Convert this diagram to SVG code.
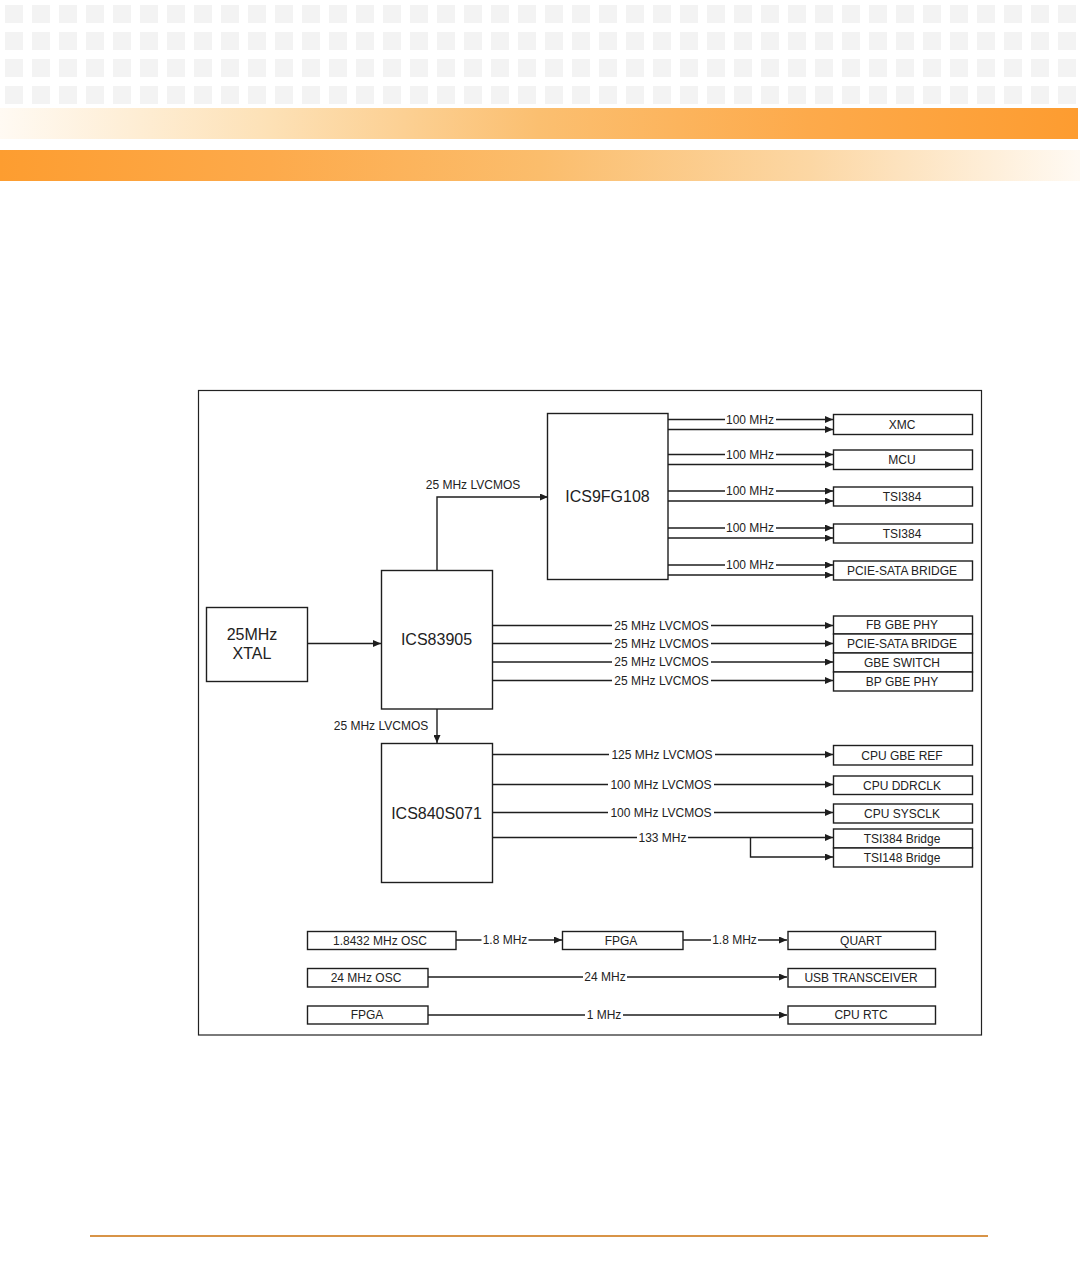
<svg xmlns="http://www.w3.org/2000/svg" width="1080" height="1268" viewBox="0 0 1080 1268">
<style>
.box{fill:#fff;stroke:#1e1e1e;stroke-width:1.4}
.ln{fill:none;stroke:#1e1e1e;stroke-width:1.4}
.arr{marker-end:url(#ah)}
.t{font-family:"Liberation Sans",Arial,sans-serif;font-size:12px;fill:#222;text-anchor:middle}
.big{font-size:16px}
.bg{fill:#fff}
</style>
<defs>
<pattern id="sq" x="5" y="5" width="27" height="27" patternUnits="userSpaceOnUse"><rect width="18" height="18" fill="#f3f3f3"/></pattern>
<linearGradient id="g1" x1="0" y1="0" x2="1" y2="0">
<stop offset="0" stop-color="#fffaf3"/><stop offset="0.25" stop-color="#fde1b6"/><stop offset="0.5" stop-color="#fbbf70"/><stop offset="0.75" stop-color="#fdaa4b"/><stop offset="1" stop-color="#fd9c30"/>
</linearGradient>
<linearGradient id="g2" x1="0" y1="0" x2="1" y2="0">
<stop offset="0" stop-color="#fd9d30"/><stop offset="0.25" stop-color="#fdaa4b"/><stop offset="0.5" stop-color="#fbbd6c"/><stop offset="0.75" stop-color="#fcd7a4"/><stop offset="1" stop-color="#fffaf3"/>
</linearGradient>
<marker id="ah" viewBox="0 0 8 7" refX="8" refY="3.5" markerWidth="8" markerHeight="7" markerUnits="userSpaceOnUse" orient="auto"><path d="M0,0 L8,3.5 L0,7 z" fill="#1e1e1e"/></marker>
</defs>

<g id="header">
<rect x="0" y="0" width="1080" height="105" fill="url(#sq)"/>
<rect x="0" y="108" width="1078" height="31" fill="url(#g1)"/>
<rect x="0" y="150" width="1080" height="31" fill="url(#g2)"/>
</g>
<line id="footer" x1="90" y1="1236" x2="988" y2="1236" stroke="#d89447" stroke-width="2"/>

<rect id="frame" x="198.5" y="390.5" width="783" height="644.5" fill="none" stroke="#222" stroke-width="1.2"/>

<g id="connectors">
<path class="ln arr" d="M307,643.5 H381"/>
<path class="ln arr" d="M437,570 V497 H548"/>
<text class="t" x="473" y="488.5">25 MHz LVCMOS</text>
<path class="ln arr" d="M437,709 V743"/>
<text class="t" x="381" y="730">25 MHz LVCMOS</text>

<path class="ln arr" d="M668,419.5 H833"/><path class="ln arr" d="M668,429.5 H833"/>
<path class="ln arr" d="M668,454.5 H833"/><path class="ln arr" d="M668,464.5 H833"/>
<path class="ln arr" d="M668,491 H833"/><path class="ln arr" d="M668,501 H833"/>
<path class="ln arr" d="M668,528 H833"/><path class="ln arr" d="M668,538 H833"/>
<path class="ln arr" d="M668,565 H833"/><path class="ln arr" d="M668,575 H833"/>
<rect class="bg" x="725" y="414.5" width="51" height="10"/><text class="t" x="750" y="423.8">100 MHz</text>
<rect class="bg" x="725" y="449.5" width="51" height="10"/><text class="t" x="750" y="458.8">100 MHz</text>
<rect class="bg" x="725" y="486" width="51" height="10"/><text class="t" x="750" y="495.3">100 MHz</text>
<rect class="bg" x="725" y="523" width="51" height="10"/><text class="t" x="750" y="532.3">100 MHz</text>
<rect class="bg" x="725" y="560" width="51" height="10"/><text class="t" x="750" y="569.3">100 MHz</text>

<path class="ln arr" d="M492,625.5 H833"/>
<path class="ln arr" d="M492,643.5 H833"/>
<path class="ln arr" d="M492,662 H833"/>
<path class="ln arr" d="M492,680.5 H833"/>
<rect class="bg" x="612" y="620.5" width="99" height="10"/><text class="t" x="661.5" y="629.8">25 MHz LVCMOS</text>
<rect class="bg" x="612" y="638.5" width="99" height="10"/><text class="t" x="661.5" y="647.8">25 MHz LVCMOS</text>
<rect class="bg" x="612" y="657" width="99" height="10"/><text class="t" x="661.5" y="666.3">25 MHz LVCMOS</text>
<rect class="bg" x="612" y="675.5" width="99" height="10"/><text class="t" x="661.5" y="684.8">25 MHz LVCMOS</text>

<path class="ln arr" d="M492,754.5 H833"/>
<path class="ln arr" d="M492,784.5 H833"/>
<path class="ln arr" d="M492,812.5 H833"/>
<path class="ln arr" d="M492,837.5 H833"/>
<path class="ln arr" d="M750.5,837.5 V857 H833"/>
<rect class="bg" x="609" y="749.5" width="106" height="10"/><text class="t" x="662" y="758.8">125 MHz LVCMOS</text>
<rect class="bg" x="608" y="779.5" width="106" height="10"/><text class="t" x="661" y="788.8">100 MHz LVCMOS</text>
<rect class="bg" x="608" y="807.5" width="106" height="10"/><text class="t" x="661" y="816.8">100 MHz LVCMOS</text>
<rect class="bg" x="637" y="832.5" width="51" height="10"/><text class="t" x="662.5" y="841.8">133 MHz</text>

<path class="ln arr" d="M456,940 H562"/>
<path class="ln arr" d="M683,940 H787"/>
<path class="ln arr" d="M428,977 H787"/>
<path class="ln arr" d="M428,1015 H787"/>
<rect class="bg" x="481.5" y="935" width="47" height="10"/><text class="t" x="505" y="944.3">1.8 MHz</text>
<rect class="bg" x="711" y="935" width="47" height="10"/><text class="t" x="734.5" y="944.3">1.8 MHz</text>
<rect class="bg" x="583" y="972" width="44" height="10"/><text class="t" x="605" y="981.3">24 MHz</text>
<rect class="bg" x="585" y="1010" width="38" height="10"/><text class="t" x="604" y="1019.3">1 MHz</text>
</g>

<g id="xtal"><rect class="box" x="206.5" y="607.5" width="101" height="74"/>
<text class="t big" x="252" y="640">25MHz</text><text class="t big" x="252" y="658.5">XTAL</text></g>
<g id="ics83905"><rect class="box" x="381.5" y="570.5" width="111" height="138.5"/><text class="t big" x="436.5" y="645">ICS83905</text></g>
<g id="ics9fg108"><rect class="box" x="547.5" y="413.5" width="120.5" height="166"/><text class="t big" x="607.5" y="502">ICS9FG108</text></g>
<g id="ics840s071"><rect class="box" x="381.5" y="743.5" width="111" height="139"/><text class="t big" x="436.5" y="818.5">ICS840S071</text></g>

<g id="xmc"><rect class="box" x="833.5" y="414.5" width="139" height="20"/><text class="t" x="902" y="428.6">XMC</text></g>
<g id="mcu"><rect class="box" x="833.5" y="450" width="139" height="19.5"/><text class="t" x="902" y="463.9">MCU</text></g>
<g id="tsi384a"><rect class="box" x="833.5" y="487" width="139" height="19"/><text class="t" x="902" y="500.8">TSI384</text></g>
<g id="tsi384b"><rect class="box" x="833.5" y="524" width="139" height="19"/><text class="t" x="902" y="537.8">TSI384</text></g>
<g id="pcie-sata-1"><rect class="box" x="833.5" y="561" width="139" height="19"/><text class="t" x="902" y="574.8">PCIE-SATA BRIDGE</text></g>

<g id="fb-gbe-phy"><rect class="box" x="833.5" y="616" width="139" height="18"/><text class="t" x="902" y="629.3">FB GBE PHY</text></g>
<g id="pcie-sata-2"><rect class="box" x="833.5" y="634" width="139" height="19"/><text class="t" x="902" y="647.8">PCIE-SATA BRIDGE</text></g>
<g id="gbe-switch"><rect class="box" x="833.5" y="653" width="139" height="19"/><text class="t" x="902" y="666.8">GBE SWITCH</text></g>
<g id="bp-gbe-phy"><rect class="box" x="833.5" y="672" width="139" height="19"/><text class="t" x="902" y="685.8">BP GBE PHY</text></g>

<g id="cpu-gbe-ref"><rect class="box" x="833.5" y="745.5" width="139" height="19.5"/><text class="t" x="902" y="759.5">CPU GBE REF</text></g>
<g id="cpu-ddrclk"><rect class="box" x="833.5" y="776" width="139" height="18.5"/><text class="t" x="902" y="789.5">CPU DDRCLK</text></g>
<g id="cpu-sysclk"><rect class="box" x="833.5" y="804" width="139" height="19"/><text class="t" x="902" y="817.8">CPU SYSCLK</text></g>
<g id="tsi384-bridge"><rect class="box" x="833.5" y="829" width="139" height="19"/><text class="t" x="902" y="842.8">TSI384 Bridge</text></g>
<g id="tsi148-bridge"><rect class="box" x="833.5" y="848" width="139" height="19"/><text class="t" x="902" y="861.8">TSI148 Bridge</text></g>

<g id="osc-18432"><rect class="box" x="307.5" y="931.5" width="148.5" height="18"/><text class="t" x="380" y="944.5">1.8432 MHz OSC</text></g>
<g id="fpga-1"><rect class="box" x="562.5" y="931.5" width="120.5" height="18"/><text class="t" x="621" y="944.5">FPGA</text></g>
<g id="quart"><rect class="box" x="788" y="931.5" width="147.5" height="18"/><text class="t" x="861" y="944.5">QUART</text></g>
<g id="osc-24"><rect class="box" x="307.5" y="968.5" width="120.5" height="18.5"/><text class="t" x="366" y="981.5">24 MHz OSC</text></g>
<g id="usb-transceiver"><rect class="box" x="788" y="968.5" width="147.5" height="18.5"/><text class="t" x="861" y="981.5">USB TRANSCEIVER</text></g>
<g id="fpga-2"><rect class="box" x="307.5" y="1006" width="120.5" height="18"/><text class="t" x="367" y="1019">FPGA</text></g>
<g id="cpu-rtc"><rect class="box" x="788" y="1006" width="147.5" height="18"/><text class="t" x="861" y="1019">CPU RTC</text></g>
</svg>
